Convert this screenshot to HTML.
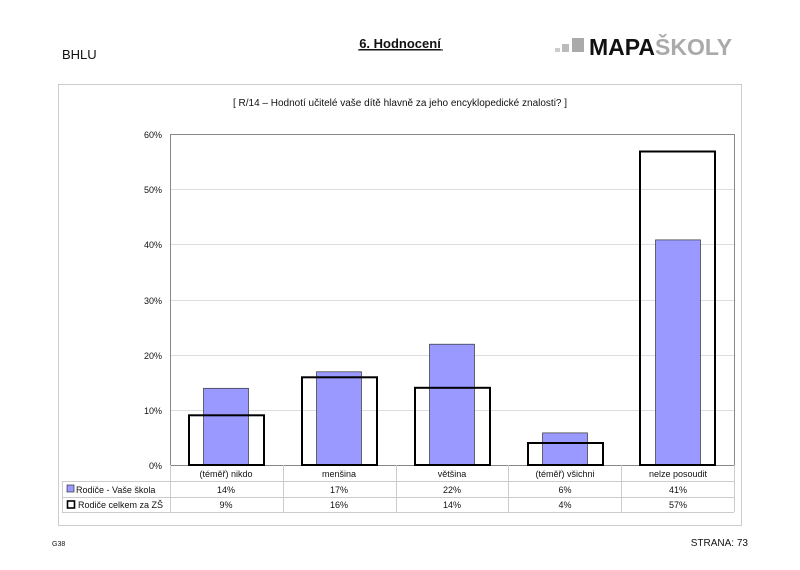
<!DOCTYPE html>
<html><head><meta charset="utf-8"><style>
body{margin:0;background:#fff;}
svg text{font-family:"Liberation Sans",sans-serif;}
</style></head><body>
<svg width="800" height="565" xmlns="http://www.w3.org/2000/svg">
<rect width="800" height="565" fill="#fff"/>
<text x="62" y="59" font-size="13" fill="#111">BHLU</text>
<text x="400" y="48" font-size="13" font-weight="bold" text-anchor="middle" fill="#111" text-decoration="underline">6. Hodnocení</text>
<line x1="358" y1="50" x2="443" y2="50" stroke="#111" stroke-width="1"/>
<rect x="555" y="48" width="5" height="4" fill="#ccc"/>
<rect x="562" y="44" width="7" height="8" fill="#bbb"/>
<rect x="572" y="38" width="12" height="14" fill="#aaa"/>
<text x="589" y="55" font-size="23" font-weight="bold" fill="#111">MAPA<tspan fill="#aaa">ŠKOLY</tspan></text>
<rect x="58.5" y="84.5" width="683" height="441" fill="#fff" stroke="#ccc"/>
<text x="400" y="106" font-size="10" text-anchor="middle" fill="#111">[ R/14 – Hodnotí učitelé vaše dítě hlavně za jeho encyklopedické znalosti? ]</text>
<g stroke="#ddd" stroke-width="1">
<line x1="170" y1="189.5" x2="734" y2="189.5"/>
<line x1="170" y1="244.5" x2="734" y2="244.5"/>
<line x1="170" y1="300.5" x2="734" y2="300.5"/>
<line x1="170" y1="355.5" x2="734" y2="355.5"/>
<line x1="170" y1="410.5" x2="734" y2="410.5"/>
</g>
<rect x="170.5" y="134.5" width="564" height="331" fill="none" stroke="#888"/>
<g font-size="9" text-anchor="end" fill="#111">
<text x="162" y="138">60%</text><text x="162" y="193">50%</text><text x="162" y="248">40%</text>
<text x="162" y="304">30%</text><text x="162" y="359">20%</text><text x="162" y="414">10%</text><text x="162" y="469">0%</text>
</g>
<g fill="#9999ff" stroke="#333" stroke-width="0.7">
<rect x="203.5" y="388.3" width="45" height="76.7"/>
<rect x="316.5" y="371.8" width="45" height="93.2"/>
<rect x="429.5" y="344.2" width="45" height="120.8"/>
<rect x="542.5" y="432.9" width="45" height="32.1"/>
<rect x="655.5" y="239.9" width="45" height="225.1"/>
</g>
<g fill="none" stroke="#000" stroke-width="2">
<rect x="189" y="415.3" width="75" height="49.7"/>
<rect x="302" y="377.3" width="75" height="87.7"/>
<rect x="415" y="387.8" width="75" height="77.2"/>
<rect x="528" y="443" width="75" height="22"/>
<rect x="640" y="151.5" width="75" height="313.5"/>
</g>
<g stroke="#ccc" stroke-width="1">
<line x1="62" y1="481.5" x2="734" y2="481.5"/>
<line x1="62" y1="497.5" x2="734" y2="497.5"/>
<line x1="62" y1="512.5" x2="734" y2="512.5"/>
<line x1="62.5" y1="481" x2="62.5" y2="512"/>
<line x1="283.5" y1="465" x2="283.5" y2="512"/>
<line x1="396.5" y1="465" x2="396.5" y2="512"/>
<line x1="508.5" y1="465" x2="508.5" y2="512"/>
<line x1="621.5" y1="465" x2="621.5" y2="512"/>
<line x1="734.5" y1="465" x2="734.5" y2="512"/>
<line x1="170.5" y1="465" x2="170.5" y2="512"/>
</g>
<g font-size="9" text-anchor="middle" fill="#111">
<text x="226" y="477">(téměř) nikdo</text><text x="339" y="477">menšina</text><text x="452" y="477">většina</text><text x="565" y="477">(téměř) všichni</text><text x="678" y="477">nelze posoudit</text>
<text x="226" y="493">14%</text><text x="339" y="493">17%</text><text x="452" y="493">22%</text><text x="565" y="493">6%</text><text x="678" y="493">41%</text>
<text x="226" y="508">9%</text><text x="339" y="508">16%</text><text x="452" y="508">14%</text><text x="565" y="508">4%</text><text x="678" y="508">57%</text>
</g>
<rect x="67" y="485" width="7" height="7" fill="#9999ff" stroke="#333" stroke-width="0.7"/>
<rect x="67.5" y="501" width="7" height="7" fill="none" stroke="#000" stroke-width="1.6"/>
<g font-size="9" fill="#111">
<text x="76" y="493">Rodiče - Vaše škola</text>
<text x="78" y="508">Rodiče celkem za ZŠ</text>
</g>
<text x="52" y="546" font-size="7" fill="#111">G38</text>
<text x="748" y="546" font-size="10" text-anchor="end" fill="#111">STRANA: 73</text>
</svg>
</body></html>
